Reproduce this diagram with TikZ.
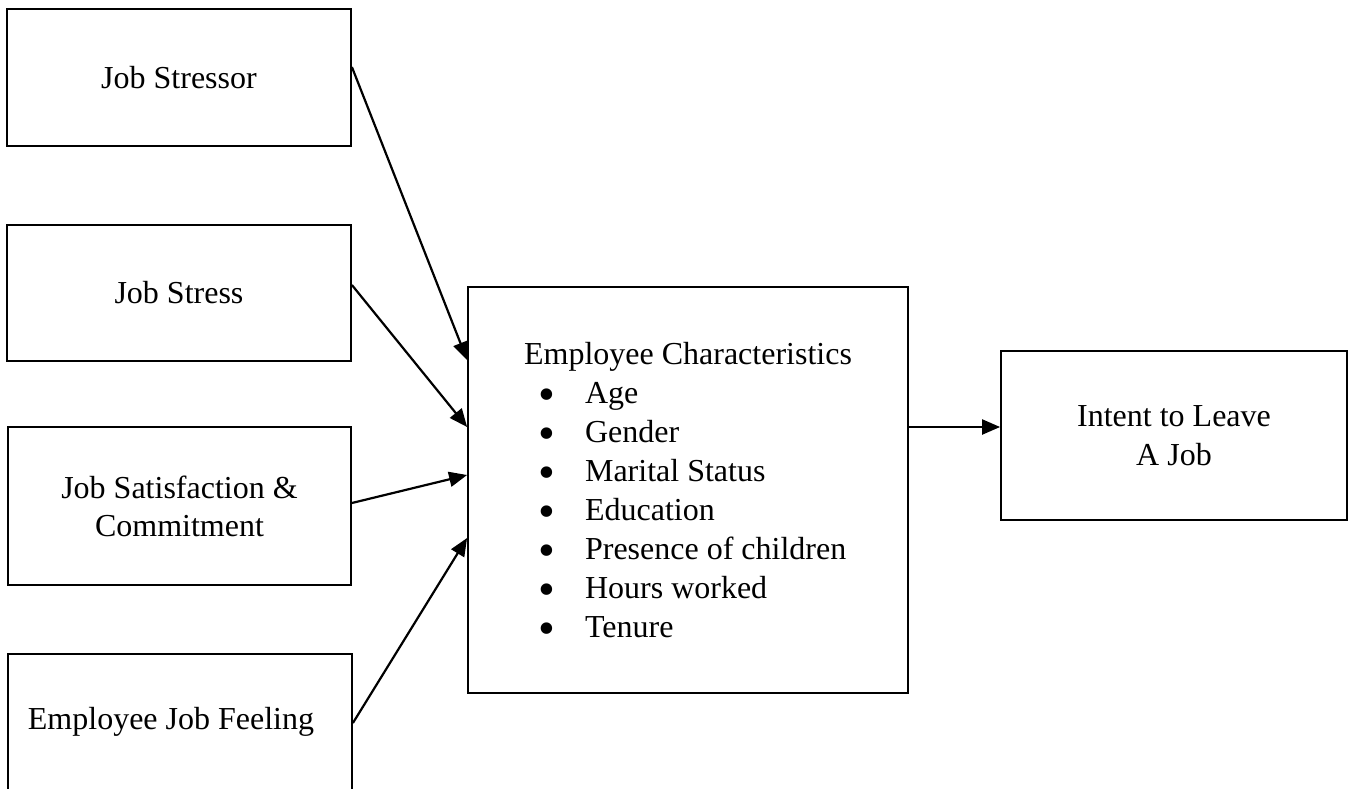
\documentclass[tikz,border=0pt]{standalone}
\usepackage{fontspec}
\usepackage{graphicx}
\setmainfont{Liberation Serif}
\usetikzlibrary{arrows.meta}
\newcommand{\bigbul}{\makebox[61pt][l]{\hspace*{14pt}\smash{\raisebox{-7pt}{\scalebox{1.5}{\textbullet}}}}}
\begin{document}
\begin{tikzpicture}[x=1pt,y=-1pt,
  box/.style={draw, line width=1.8pt, inner sep=0pt, font=\fontsize{32}{39}\selectfont, align=center},
  conn/.style={line width=2.2pt, -{Triangle[length=18pt,width=15pt]}}]
\useasboundingbox (0,0) rectangle (1354,789);
\clip (0,0) rectangle (1354,789);
\node[box, minimum width=344pt, minimum height=137pt] (stressor) at (179,77.5) {Job Stressor};
\node[box, minimum width=344pt, minimum height=136pt] (stress) at (179,293) {Job Stress};
\node[box, minimum width=343pt, minimum height=158pt] (satis) at (179.5,506) {Job Satisfaction \&\\[-1pt] Commitment};
\node[box, minimum width=344pt, minimum height=136pt] (feel) at (180,722) {\hspace*{-18pt}Employee Job Feeling};
\node[box, minimum width=440pt, minimum height=406pt, align=left] (emp) at (688,490) {%
Employee Characteristics\\
\bigbul Age\\
\bigbul Gender\\
\bigbul Marital Status\\
\bigbul Education\\
\bigbul Presence of children\\
\bigbul Hours worked\\
\bigbul Tenure};
\node[box, minimum width=346pt, minimum height=169pt] (intent) at (1174,435.5) {Intent to Leave\\ A Job};
\draw[conn] ([yshift=10.5pt]stressor.east) -- ([yshift=130pt]emp.west);
\draw[conn] ([yshift=8pt]stress.east) -- ([yshift=63pt]emp.west);
\draw[conn] ([yshift=3pt]satis.east) -- ([yshift=15pt]emp.west);
\draw[conn] ([yshift=-1pt]feel.east) -- ([yshift=-48pt]emp.west);
\draw[conn] ([yshift=63pt]emp.east) -- ([yshift=8.5pt]intent.west);
\end{tikzpicture}
\end{document}
